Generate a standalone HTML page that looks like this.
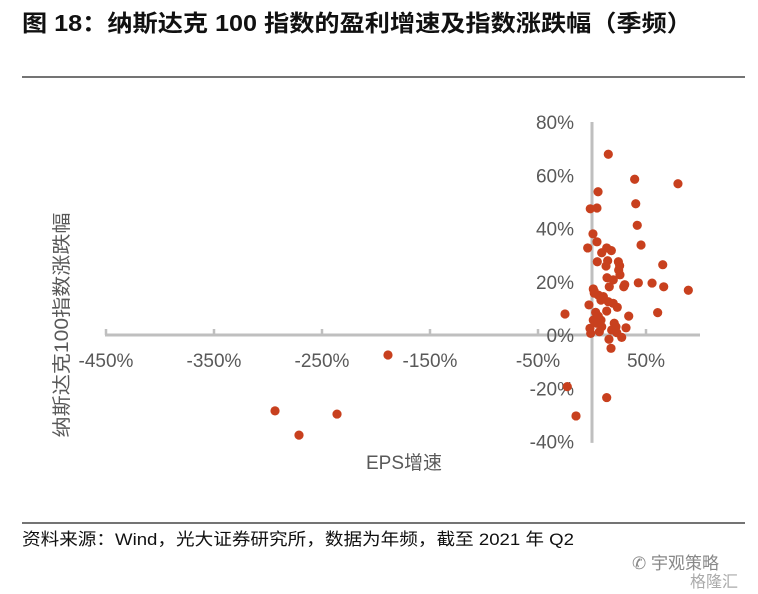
<!DOCTYPE html>
<html><head><meta charset="utf-8"><style>
body{margin:0;background:#fff;width:758px;height:594px;overflow:hidden;font-family:"Liberation Sans","Noto Sans CJK SC",sans-serif}
svg{display:block}
</style></head><body>
<svg width="758" height="594">
<text x="22" y="31" font-size="23" font-weight="bold" fill="#111" textLength="670" lengthAdjust="spacingAndGlyphs" font-family="Liberation Sans, Noto Sans CJK SC, sans-serif">图 18：纳斯达克 100 指数的盈利增速及指数涨跌幅（季频）</text>
<line x1="22" y1="77" x2="745" y2="77" stroke="#222" stroke-width="1.2"/>
<line x1="22" y1="523" x2="745" y2="523" stroke="#222" stroke-width="1.2"/>
<text x="22" y="545" font-size="17" fill="#111" textLength="552" lengthAdjust="spacingAndGlyphs" font-family="Liberation Sans, Noto Sans CJK SC, sans-serif">资料来源：Wind，光大证券研究所，数据为年频，截至 2021 年 Q2</text>
<text x="632" y="569" font-size="17" fill="#888" font-family="Liberation Sans, Noto Sans CJK SC, sans-serif">✆ 宇观策略</text>
<text x="690" y="587" font-size="16" fill="#aaa" font-family="Liberation Sans, Noto Sans CJK SC, sans-serif">格隆汇</text>
<text transform="translate(68,325) rotate(-90)" text-anchor="middle" font-size="19" fill="#595959" textLength="225" lengthAdjust="spacingAndGlyphs" font-family="Liberation Sans, Noto Sans CJK SC, sans-serif">纳斯达克100指数涨跌幅</text>
<text x="404" y="469" text-anchor="middle" font-size="19" fill="#595959" font-family="Liberation Sans, Noto Sans CJK SC, sans-serif">EPS增速</text>
<g id="axes"></g>
<g id="pts"></g>
</svg>
<script>
const xTicks=[-450,-350,-250,-150,-50,50];
const yTicks=[80,60,40,20,0,-20,-40];
const epsGrowth=[15.1,39.5,79.6,5.6,-1.6,4.6,40.5,41.9,0.9,4.6,-4.0,45.4,13.6,17.9,9.0,4.9,14.5,24.4,13.0,25.6,65.5,24.7,25.9,13.9,19.7,30.3,42.9,55.6,29.4,16.0,66.4,1.2,89.2,2.0,2.1,5.8,10.5,8.3,-2.8,15.1,19.7,23.4,-25.0,13.6,60.8,34.0,3.4,5.8,1.2,8.3,4.4,20.6,-1.9,9.0,22.2,31.5,18.2,6.8,-1.2,22.9,27.5,15.7,17.6,-22.9,13.6,-14.8,-188.9,-293.5,-236.1,-271.3];
const indexChange=[67.9,58.5,56.8,53.8,47.4,47.7,49.3,41.2,38.0,35.0,32.7,33.8,32.7,31.7,30.9,27.5,27.9,27.5,25.9,26.0,26.4,24.4,22.6,21.5,20.7,18.9,19.6,19.5,18.1,18.1,18.1,17.3,16.8,16.5,15.7,15.0,14.4,13.1,11.3,12.5,11.9,10.4,7.9,9.0,8.4,7.1,8.5,7.1,5.6,5.6,4.4,4.4,2.5,3.1,3.1,2.7,1.9,1.2,0.6,0.9,-0.9,-1.6,-5.0,-19.4,-23.5,-30.4,-7.5,-28.5,-29.7,-37.6];
const NS='http://www.w3.org/2000/svg';
const sx=v=>592+v*1.08;
const sy=v=>335-v*2.6625;
const ax=document.getElementById('axes'),pg=document.getElementById('pts');
function mk(t,a,p){const e=document.createElementNS(NS,t);for(const k in a)e.setAttribute(k,a[k]);p.appendChild(e);return e;}
const xl=mk('line',{x1:105,y1:335,x2:700,y2:335,stroke:'#bfbfbf','stroke-width':3},ax);


const yl=mk('line',{x1:592,y1:sy(80),x2:592,y2:sy(-40.5),stroke:'#bfbfbf','stroke-width':3},ax);


xTicks.forEach(v=>{
 const tk=mk('line',{x1:sx(v),y1:335,x2:sx(v),y2:329,stroke:'#bfbfbf','stroke-width':2.5},ax);
 
 
 const t=mk('text',{x:sx(v),y:367,'text-anchor':'middle','font-size':19,fill:'#595959'},ax);
 t.textContent=v+'%';
 
 
});
yTicks.forEach(v=>{
 const t=mk('text',{x:574,y:sy(v)+7,'text-anchor':'end','font-size':19,fill:'#595959'},ax);
 t.textContent=v+'%';
 
 
});
epsGrowth.forEach((v,i)=>{
 const c=mk('circle',{cx:sx(v),cy:sy(indexChange[i]),r:4.6,fill:'#c8401e'},pg);
 
 
});
</script>
</body></html>
